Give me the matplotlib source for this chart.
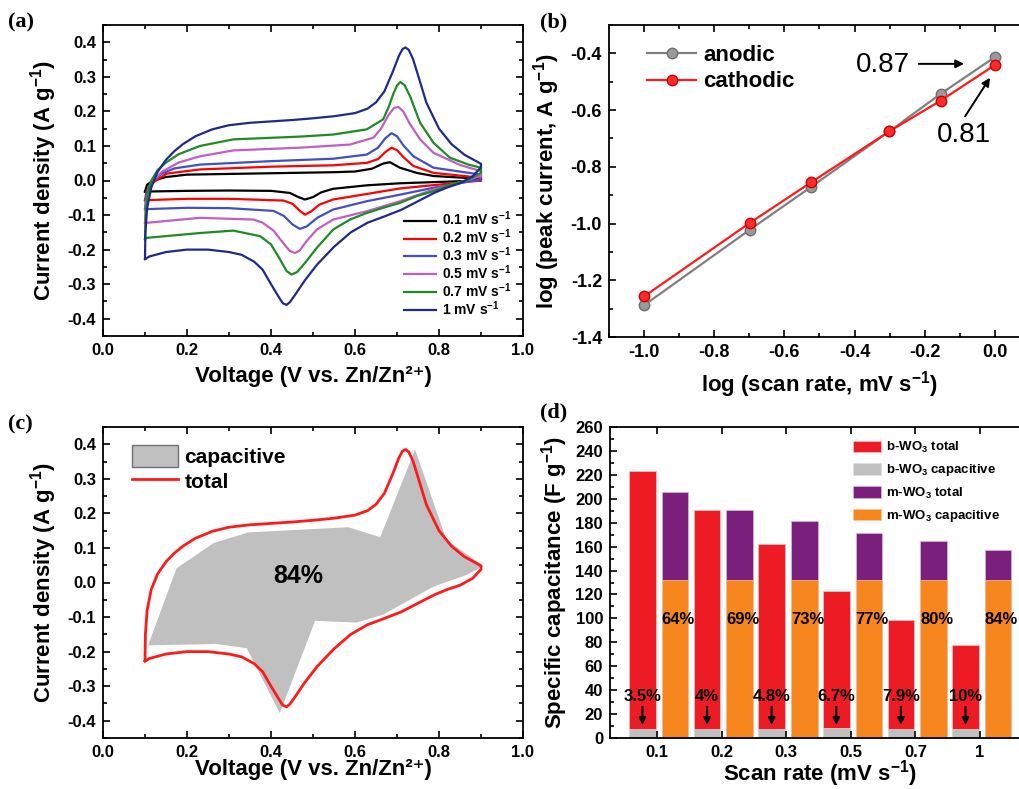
import matplotlib
matplotlib.use("Agg")
import matplotlib.pyplot as plt
import numpy as np
from matplotlib.patches import Patch
from matplotlib.lines import Line2D
from matplotlib.ticker import FuncFormatter

plt.rcParams['font.family'] = ['Liberation Sans', 'DejaVu Sans']
plt.rcParams['font.weight'] = 'bold'
plt.rcParams['axes.labelweight'] = 'bold'
plt.rcParams['axes.unicode_minus'] = False
plt.rcParams['mathtext.fontset'] = 'custom'
plt.rcParams['mathtext.rm'] = 'Liberation Sans:bold'
plt.rcParams['mathtext.bf'] = 'Liberation Sans:bold'
plt.rcParams['mathtext.it'] = 'Liberation Sans:bold'
plt.rcParams['mathtext.default'] = 'bf'

# ---------------- (a) CV curves: anodic sweep then cathodic sweep ----------------
cv01_v = [0.100, 0.105, 0.120, 0.150, 0.200, 0.400, 0.550, 0.600, 0.640, 0.667, 0.683, 0.707, 0.747, 0.787, 0.900,
          0.900, 0.707, 0.628, 0.548, 0.520, 0.500, 0.481, 0.465, 0.445, 0.400, 0.300, 0.200, 0.100]
cv01_i = [-0.032, -0.012, 0.000, 0.010, 0.017, 0.021, 0.024, 0.026, 0.034, 0.049, 0.053, 0.037, 0.022, 0.013, 0.005,
          0.000, -0.008, -0.014, -0.024, -0.034, -0.048, -0.055, -0.048, -0.036, -0.030, -0.029, -0.030, -0.032]

cv02_v = [0.100, 0.104, 0.115, 0.136, 0.152, 0.231, 0.400, 0.548, 0.628, 0.655, 0.672, 0.687, 0.700, 0.715, 0.739, 0.787, 0.900,
          0.900, 0.707, 0.628, 0.548, 0.515, 0.495, 0.481, 0.469, 0.452, 0.430, 0.300, 0.200, 0.100]
cv02_i = [-0.057, -0.030, -0.010, 0.008, 0.020, 0.032, 0.040, 0.044, 0.051, 0.062, 0.082, 0.095, 0.088, 0.068, 0.042, 0.022, 0.008,
          0.000, -0.023, -0.039, -0.055, -0.070, -0.090, -0.099, -0.088, -0.068, -0.058, -0.053, -0.053, -0.057]

cv03_v = [0.100, 0.103, 0.110, 0.125, 0.140, 0.170, 0.231, 0.400, 0.548, 0.628, 0.655, 0.672, 0.687, 0.700, 0.715, 0.739, 0.787, 0.900,
          0.900, 0.787, 0.707, 0.628, 0.548, 0.510, 0.485, 0.469, 0.452, 0.430, 0.406, 0.300, 0.200, 0.100]
cv03_i = [-0.083, -0.040, -0.015, 0.005, 0.020, 0.035, 0.046, 0.056, 0.063, 0.075, 0.095, 0.122, 0.137, 0.128, 0.102, 0.070, 0.037, 0.017,
          0.003, -0.021, -0.041, -0.060, -0.084, -0.108, -0.133, -0.140, -0.128, -0.102, -0.088, -0.080, -0.079, -0.083]

cv05_v = [0.100, 0.102, 0.108, 0.120, 0.140, 0.180, 0.231, 0.310, 0.469, 0.588, 0.644, 0.662, 0.680, 0.693, 0.703, 0.715, 0.730, 0.755, 0.787, 0.850, 0.900,
          0.900, 0.850, 0.787, 0.707, 0.628, 0.548, 0.509, 0.485, 0.468, 0.457, 0.444, 0.425, 0.406, 0.380, 0.358, 0.231, 0.100]
cv05_i = [-0.123, -0.070, -0.030, 0.000, 0.025, 0.052, 0.070, 0.087, 0.095, 0.104, 0.124, 0.150, 0.190, 0.210, 0.213, 0.200, 0.165, 0.119, 0.080, 0.045, 0.027,
          0.013, -0.005, -0.026, -0.060, -0.089, -0.113, -0.142, -0.175, -0.203, -0.210, -0.203, -0.175, -0.145, -0.122, -0.113, -0.108, -0.123]

cv07_v = [0.100, 0.102, 0.106, 0.115, 0.130, 0.150, 0.180, 0.231, 0.310, 0.469, 0.548, 0.628, 0.667, 0.680, 0.691, 0.700, 0.708, 0.718, 0.731, 0.755, 0.787, 0.826, 0.870, 0.900,
          0.900, 0.866, 0.826, 0.787, 0.747, 0.707, 0.667, 0.628, 0.588, 0.548, 0.509, 0.480, 0.462, 0.449, 0.437, 0.420, 0.400, 0.374, 0.310, 0.231, 0.104, 0.100]
cv07_i = [-0.170, -0.090, -0.040, 0.000, 0.030, 0.052, 0.076, 0.100, 0.119, 0.127, 0.133, 0.148, 0.177, 0.212, 0.250, 0.275, 0.285, 0.276, 0.244, 0.167, 0.109, 0.066, 0.046, 0.037,
          0.022, 0.000, -0.012, -0.031, -0.045, -0.065, -0.079, -0.094, -0.113, -0.142, -0.195, -0.240, -0.265, -0.272, -0.262, -0.225, -0.185, -0.161, -0.145, -0.152, -0.166, -0.170]

cv1_v = [0.100, 0.101, 0.105, 0.115, 0.130, 0.150, 0.170, 0.190, 0.220, 0.260, 0.300, 0.350, 0.400, 0.450, 0.500, 0.550, 0.600, 0.630, 0.650,
         0.670, 0.690, 0.705, 0.713, 0.720, 0.728, 0.738, 0.750, 0.770, 0.800, 0.830, 0.860, 0.890, 0.900,
         0.900, 0.880, 0.850, 0.820, 0.790, 0.750, 0.710, 0.670, 0.630, 0.590, 0.550, 0.510, 0.480, 0.455, 0.445, 0.437, 0.428, 0.420, 0.400, 0.380,
         0.360, 0.330, 0.300, 0.250, 0.200, 0.150, 0.110, 0.100]
cv1_i = [-0.225, -0.150, -0.080, -0.020, 0.025, 0.060, 0.085, 0.105, 0.128, 0.148, 0.160, 0.167, 0.171, 0.175, 0.180, 0.186, 0.195, 0.208, 0.226,
         0.258, 0.315, 0.362, 0.380, 0.385, 0.378, 0.352, 0.305, 0.225, 0.150, 0.105, 0.075, 0.055, 0.048,
         0.038, 0.012, -0.008, -0.020, -0.035, -0.060, -0.085, -0.104, -0.122, -0.150, -0.192, -0.243, -0.290, -0.335, -0.352, -0.360, -0.355, -0.340, -0.300, -0.258,
         -0.235, -0.215, -0.207, -0.200, -0.200, -0.207, -0.220, -0.228]

cv_labels = ['0.1 mV s$^{-1}$', '0.2 mV s$^{-1}$', '0.3 mV s$^{-1}$',
             '0.5 mV s$^{-1}$', '0.7 mV s$^{-1}$', '1 mV s$^{-1}$']
cv_colors = ['black', '#FF0000', '#3F51C4', '#C25EC6', '#1E8B24', '#1F2A8A']

# ---------------- (b) log peak current vs log scan rate ----------------
log_rate = [-1.0, -0.699, -0.523, -0.301, -0.155, 0.0]
log_anodic = [-1.288, -1.022, -0.870, -0.675, -0.543, -0.413]
log_cathodic = [-1.257, -0.998, -0.854, -0.675, -0.567, -0.441]

# ---------------- (c) capacitive contribution region at 1 mV/s ----------------
cap_v = [0.108, 0.175, 0.263, 0.346, 0.584, 0.660, 0.743, 0.818, 0.906,
         0.866, 0.787, 0.667, 0.604, 0.505, 0.421, 0.342, 0.270, 0.104]
cap_i = [-0.180, 0.041, 0.114, 0.145, 0.160, 0.131, 0.385, 0.123, 0.048,
         0.022, -0.012, -0.093, -0.116, -0.111, -0.378, -0.190, -0.178, -0.182]

# ---------------- (d) specific capacitance bars ----------------
scan_rates = ['0.1', '0.2', '0.3', '0.5', '0.7', '1']
b_total = [223, 190.5, 162, 123, 98.5, 77.5]
b_capacitive = [7.8, 7.6, 7.8, 8.2, 7.8, 7.8]
m_total = [206, 190.5, 181.5, 171, 164.5, 157.5]
m_capacitive = [132, 132, 132, 132, 132, 132]
b_pct = ['3.5%', '4%', '4.8%', '6.7%', '7.9%', '10%']
m_pct = ['64%', '69%', '73%', '77%', '80%', '84%']

fmt1 = FuncFormatter(lambda v, p: '0.0' if abs(v) < 1e-9 else '%.1f' % v)


def style_axes(ax, tick_size):
    for s in ax.spines.values():
        s.set_linewidth(1.3)
    ax.tick_params(which='both', direction='in', top=True, right=True, width=1.2)
    ax.tick_params(which='major', length=5, labelsize=tick_size, pad=5)
    ax.tick_params(which='minor', length=3)


fig = plt.figure(figsize=(10.19, 7.89), dpi=100)
W, H = 1019.0, 789.0


def place(left, top, right, bottom):
    return fig.add_axes([left / W, 1 - bottom / H, (right - left) / W, (bottom - top) / H])


def cv_axes(ax):
    ax.set_xlim(0, 1.0)
    ax.set_ylim(-0.45, 0.45)
    ax.set_xticks(np.arange(0, 1.01, 0.2))
    ax.set_xticks(np.arange(0, 1.01, 0.1), minor=True)
    ax.set_yticks(np.arange(-0.4, 0.41, 0.1))
    ax.set_yticks(np.arange(-0.45, 0.46, 0.05), minor=True)
    ax.xaxis.set_major_formatter(fmt1)
    ax.yaxis.set_major_formatter(fmt1)
    style_axes(ax, 12)
    ax.set_ylabel('Current density (A g$^{-1}$)', fontsize=16, labelpad=6)


# (a)
ax1 = place(103, 25, 523, 336)
curves = [(cv01_v, cv01_i), (cv02_v, cv02_i), (cv03_v, cv03_i),
          (cv05_v, cv05_i), (cv07_v, cv07_i), (cv1_v, cv1_i)]
for (v, i), lab, col in zip(curves, cv_labels, cv_colors):
    ax1.plot(v, i, color=col, lw=1.6, label=lab)
cv_axes(ax1)
ax1.set_xlabel('Voltage (V vs. Zn/Zn²⁺)', fontsize=16, labelpad=6)
ax1.legend(loc='lower right', bbox_to_anchor=(0.985, 0.04), frameon=False,
           prop={'size': 10, 'weight': 'bold'}, handlelength=2.3,
           handletextpad=0.45, labelspacing=-0.05, borderaxespad=0)

# (b)
ax2 = place(609, 25, 1030, 337)
ax2.plot(log_rate, log_anodic, '-o', color='#808080', lw=1.6, ms=7.5,
         mfc='#9A9A9A', mec='#6E6E6E', label='anodic')
ax2.plot(log_rate, log_cathodic, '-o', color='#FF1A1A', lw=1.6, ms=7.5,
         mfc='#FF2B2B', mec='#CC0000', label='cathodic')
ax2.set_xlim(-1.1, 0.1)
ax2.set_ylim(-1.4, -0.3)
ax2.set_xticks(np.arange(-1.0, 0.01, 0.2))
ax2.set_xticks(np.arange(-1.1, 0.11, 0.1), minor=True)
ax2.set_yticks(np.arange(-1.4, -0.39, 0.2))
ax2.set_yticks(np.arange(-1.4, -0.29, 0.1), minor=True)
ax2.xaxis.set_major_formatter(fmt1)
ax2.yaxis.set_major_formatter(fmt1)
style_axes(ax2, 13)
ax2.set_xlabel('log (scan rate, mV s$^{-1}$)', fontsize=16, labelpad=6)
ax2.set_ylabel('log (peak current, A g$^{-1}$)', fontsize=16, labelpad=6)
ax2.legend(loc='upper left', bbox_to_anchor=(0.07, 0.965), frameon=False,
           prop={'size': 16, 'weight': 'bold'}, handlelength=2.2,
           handletextpad=0.3, labelspacing=0.25, borderaxespad=0)
ax2.text(-0.32, -0.441, '0.87', fontsize=20, fontweight='normal', ha='center', va='center')
ax2.annotate('', xy=(-0.088, -0.437), xytext=(-0.217, -0.437),
             arrowprops=dict(arrowstyle='-|>', color='black', lw=1.4,
                             shrinkA=0, shrinkB=0, mutation_scale=12))
ax2.text(-0.088, -0.687, '0.81', fontsize=20, fontweight='normal', ha='center', va='center')
ax2.annotate('', xy=(-0.014, -0.486), xytext=(-0.085, -0.622),
             arrowprops=dict(arrowstyle='-|>', color='black', lw=1.4,
                             shrinkA=0, shrinkB=0, mutation_scale=12))

# (c)
ax3 = place(103, 427, 523, 738)
ax3.fill(cap_v, cap_i, color='#C0C0C0', lw=0)
ax3.plot(cv1_v, cv1_i, color='#FF1A1A', lw=2)
ax3.text(0.465, 0.02, '84%', fontsize=18, ha='center', va='center')
cv_axes(ax3)
ax3.set_xlabel('Voltage (V vs. Zn/Zn²⁺)', fontsize=16, labelpad=-1)
handles_c = [Patch(facecolor='#C0C0C0', edgecolor='#707070', label='capacitive'),
             Line2D([0], [0], color='#FF1A1A', lw=2, label='total')]
ax3.legend(handles=handles_c, loc='upper left', bbox_to_anchor=(0.05, 0.97), frameon=False,
           prop={'size': 15, 'weight': 'bold'}, handlelength=2.2, handleheight=1.3,
           handletextpad=0.3, labelspacing=0.1, borderaxespad=0)

# (d)
ax4 = place(610, 427, 1030, 738)
x = np.arange(1, len(scan_rates) + 1)
bw = 0.41
xr = x - 0.225
xo = x + 0.28
ax4.bar(xr, b_total, width=bw, color='#ED1C24', edgecolor='#F6C0C0', lw=0.5, label='b-WO$_3$ total')
ax4.bar(xr, b_capacitive, width=bw, color='#C0C0C0', edgecolor='#E0E0E0', lw=0.5, label='b-WO$_3$ capacitive')
ax4.bar(xo, m_total, width=bw, color='#7A1F7C', edgecolor='#D8B8D8', lw=0.5, label='m-WO$_3$ total')
ax4.bar(xo, m_capacitive, width=bw, color='#F7861F', edgecolor='#F9C9A0', lw=0.5, label='m-WO$_3$ capacitive')
for k in range(len(scan_rates)):
    ax4.text(xr[k], 35, b_pct[k], fontsize=12, ha='center', va='center')
    ax4.annotate('', xy=(xr[k], 11), xytext=(xr[k], 26),
                 arrowprops=dict(arrowstyle='-|>', color='black', lw=1.5,
                                 shrinkA=0, shrinkB=0, mutation_scale=10))
    ax4.text(x[k] + 0.33, 99, m_pct[k], fontsize=12, ha='center', va='center')
ax4.set_xlim(0.273, 6.773)
ax4.set_ylim(0, 260)
ax4.set_xticks(x)
ax4.set_xticklabels(scan_rates)
ax4.set_yticks(np.arange(0, 261, 20))
ax4.set_yticks(np.arange(0, 261, 10), minor=True)
style_axes(ax4, 12)
ax4.tick_params(axis='x', which='minor', bottom=False, top=False)
ax4.set_xlabel('Scan rate (mV s$^{-1}$)', fontsize=16, labelpad=-1)
ax4.set_ylabel('Specific capacitance (F g$^{-1}$)', fontsize=16, labelpad=4)
ax4.legend(loc='upper right', bbox_to_anchor=(0.94, 0.975), frameon=False,
           prop={'size': 9.5, 'weight': 'bold'}, handlelength=2.1, handleheight=1.0,
           handletextpad=0.35, labelspacing=0.55, borderaxespad=0)

# panel labels
for lab, px, py in [('(a)', 8, 22), ('(b)', 540, 22), ('(c)', 8, 424), ('(d)', 540, 412)]:
    fig.text(px / W, 1 - py / H, lab, fontsize=16, fontweight='bold',
             family=['Liberation Serif', 'DejaVu Serif'], ha='left', va='center')

fig.savefig('out.png', dpi=100)
